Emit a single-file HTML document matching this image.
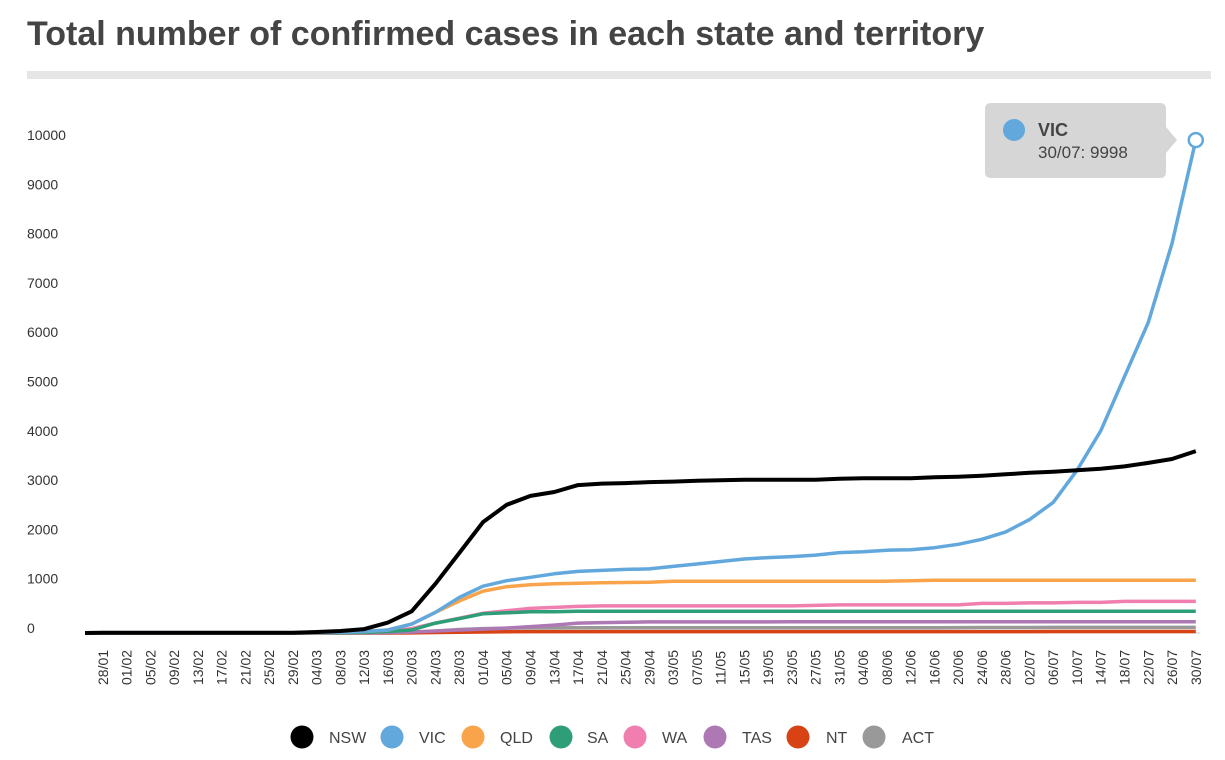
<!DOCTYPE html>
<html><head><meta charset="utf-8"><style>
body{margin:0;background:#fff;font-family:"Liberation Sans",sans-serif;}
#wrap{position:relative;width:1225px;height:760px;overflow:hidden;}
h1{position:absolute;left:27px;top:15px;margin:0;font-size:34px;font-weight:bold;color:#444;letter-spacing:0px;}
#bar{position:absolute;left:27px;top:71px;width:1184px;height:8px;background:#e6e6e6;}
svg{position:absolute;left:0;top:0;}
</style></head><body>
<div id="wrap">
<h1>Total number of confirmed cases in each state and territory</h1>
<div id="bar"></div>
<svg id="chart" width="1225" height="760"></svg>
</div>
<script>
const dates=["25/01","28/01","01/02","05/02","09/02","13/02","17/02","21/02","25/02","29/02","04/03","08/03","12/03","16/03","20/03","24/03","28/03","01/04","05/04","09/04","13/04","17/04","21/04","25/04","29/04","03/05","07/05","11/05","15/05","19/05","23/05","27/05","31/05","04/06","08/06","12/06","16/06","20/06","24/06","28/06","02/07","06/07","10/07","14/07","18/07","22/07","26/07","30/07"];
const nsw=[0,4,4,4,4,4,4,4,4,4,20,40,80,210,440,1000,1620,2250,2600,2780,2860,3000,3030,3040,3060,3070,3090,3100,3110,3110,3110,3110,3130,3140,3140,3140,3160,3170,3190,3220,3250,3270,3300,3330,3380,3450,3530,3690];
const vic=[0,1,4,4,4,4,4,4,4,4,10,15,30,60,180,420,720,950,1060,1130,1200,1250,1270,1290,1300,1350,1400,1450,1500,1530,1550,1580,1630,1650,1680,1690,1730,1800,1900,2050,2300,2650,3300,4100,5200,6300,7900,9998];
const qld=[0,0,2,2,2,2,5,5,5,5,10,15,30,60,180,420,650,850,940,980,1000,1010,1020,1025,1030,1050,1050,1050,1050,1050,1050,1050,1050,1050,1050,1060,1070,1070,1070,1070,1070,1070,1070,1070,1070,1070,1070,1070];
const sa=[0,0,0,0,0,0,0,0,0,0,3,6,10,30,60,200,290,390,410,430,430,440,440,440,440,440,440,440,440,440,440,440,440,440,440,440,440,440,440,440,440,440,440,440,440,440,440,440];
const wa=[0,0,0,0,0,0,0,0,0,0,3,5,10,30,90,200,300,400,450,500,520,540,550,550,550,550,550,550,550,550,550,560,570,570,570,570,570,570,600,600,610,610,620,620,640,640,640,640];
const tas=[0,0,0,0,0,0,0,0,0,0,0,1,5,10,20,40,60,80,100,130,160,200,210,220,225,225,226,226,226,226,228,228,228,228,228,228,228,228,228,228,228,228,228,228,228,228,228,228];
const nt=[0,0,0,0,0,0,0,0,0,0,0,0,0,1,3,10,15,20,25,28,28,28,28,28,28,29,29,29,29,29,29,29,29,29,29,29,29,29,29,29,29,30,31,31,31,31,31,31];
const act=[0,0,0,0,0,0,0,0,0,0,0,0,1,2,10,40,70,90,100,103,103,105,106,106,106,107,107,107,107,107,108,108,108,108,108,108,108,110,111,111,111,113,113,113,113,113,113,113];
const yTicks=[0,1000,2000,3000,4000,5000,6000,7000,8000,9000,10000];
const seriesNames=["NSW","VIC","QLD","SA","WA","TAS","NT","ACT"];
const seriesColors=["#000000","#62a8dc","#f9a44a","#2e9e78","#f07fb0","#ad78b4","#d84315","#999999"];
const seriesData=[nsw,vic,qld,sa,wa,tas,nt,act];

const NS="http://www.w3.org/2000/svg";
const svg=document.getElementById('chart');
function mk(t,a){const e=document.createElementNS(NS,t);for(const k in a)e.setAttribute(k,a[k]);return e;}
function dayOf(s){const [d,m]=s.split('/').map(Number);const cum=[0,31,60,91,121,152,182];return cum[m-1]+d-25;}
const X0=85,PX=5.94,Y0=633,K=0.0493;
function xs(s){return X0+dayOf(s)*PX;}
function ys(v){return Y0-v*K;}

yTicks.forEach(v=>{const t=mk('text',{x:27,y:ys(v)+0,'font-size':14,fill:'#333','font-family':'Liberation Sans, sans-serif'});


t.textContent=v;svg.appendChild(t);});
const base=mk('line',{x1:85,x2:1200,y1:Y0,y2:Y0,stroke:'#ccc','stroke-width':1});


svg.appendChild(base);
dates.slice(1).forEach(d=>{const x=xs(d);const t=mk('text',{transform:`translate(${x+5},${685}) rotate(-90)`,'font-size':14,fill:'#333','font-family':'Liberation Sans, sans-serif'});


t.textContent=d;svg.appendChild(t);});

for(let i=seriesData.length-1;i>=0;i--){
 const pts=dates.map((d,j)=>xs(d).toFixed(1)+','+ys(seriesData[i][j]).toFixed(1)).join(' ');
 const pl=mk('polyline',{points:pts,fill:'none',stroke:seriesColors[i],'stroke-width':i==0?4:3.5,'stroke-linejoin':'round'});
 
 
 svg.appendChild(pl);
}
const lx=xs(dates[dates.length-1]),ly=ys(vic[vic.length-1]);
const mkr=mk('circle',{cx:lx,cy:ly,r:7,fill:'#fff',stroke:'#62a8dc','stroke-width':2.5});


svg.appendChild(mkr);
const tip=mk('g',{});


tip.appendChild(mk('path',{d:`M991,103 H1160 Q1166,103 1166,109 V127 L1177,140 L1166,153 V172 Q1166,178 1160,178 H991 Q985,178 985,172 V109 Q985,103 991,103 Z`,fill:'#d6d6d6'}));
tip.appendChild(mk('circle',{cx:1014,cy:130,r:11,fill:'#62a8dc'}));
const t1=mk('text',{x:1038,y:136,'font-size':18,'font-weight':'bold',fill:'#444'});t1.textContent='VIC';tip.appendChild(t1);
const t2=mk('text',{x:1038,y:158,'font-size':17,fill:'#444'});t2.textContent='30/07: '+vic[vic.length-1];tip.appendChild(t2);
svg.appendChild(tip);
const legCx=[302,392,473,561,635,715,798,874];
const legTx=[329,419,500,587,662,742,826,902];
seriesNames.forEach((n,i)=>{const g=mk('g',{});
 
 
 g.appendChild(mk('circle',{cx:legCx[i],cy:737,r:11.5,fill:seriesColors[i]}));
 const t=mk('text',{x:legTx[i],y:743,'font-size':16,fill:'#444'});t.textContent=n;g.appendChild(t);
 svg.appendChild(g);});
</script>
</body></html>
